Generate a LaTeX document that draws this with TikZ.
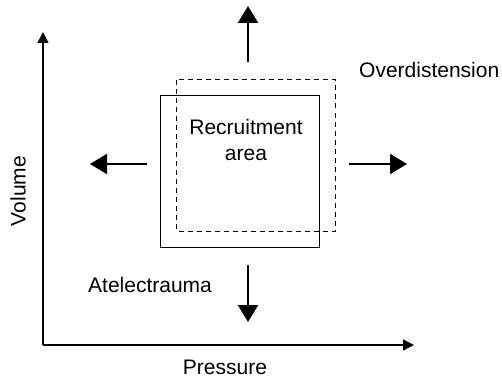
\documentclass[tikz,border=0pt]{standalone}
\usepackage{fontspec}
\setmainfont{Liberation Sans}
\usetikzlibrary{arrows.meta}
\begin{document}
\begin{tikzpicture}[x=1pt,y=-1pt,
  lbl/.style={font=\fontsize{21}{24}\selectfont, inner sep=0pt},
  axis/.style={line width=1.4pt, -{Triangle[width=11pt,length=11pt]}},
  bigarrow/.style={line width=2pt, -{Triangle[width=20pt,length=17pt]}},
  box/.style={line width=1pt}]
\useasboundingbox (0,0) rectangle (502,382);
% axes
\coordinate (O) at (43,345);
\coordinate (ytip) at (43,32);
\coordinate (xtip) at (414,345);
\draw[axis] (O) -- (ytip);
\draw[axis] (O) -- (xtip);
% boxes
\draw[box] (160.5,96) rectangle (319.5,247);
\draw[box,dashed,dash pattern=on 5pt off 4pt] (176.5,80) rectangle (335,231);
% arrow coordinates
\coordinate (us) at (248,62);  \coordinate (ut) at (248,6);
\coordinate (ds) at (248,265); \coordinate (dt) at (248,322);
\coordinate (ls) at (147,164); \coordinate (lt) at (90,164);
\coordinate (rs) at (349,164); \coordinate (rt) at (407,164);
\draw[bigarrow] (us) -- (ut);
\draw[bigarrow] (ds) -- (dt);
\draw[bigarrow] (ls) -- (lt);
\draw[bigarrow] (rs) -- (rt);
% labels
\node[lbl, align=center] (rec) at (246,140) {Recruitment\\[2pt]area};
\node[lbl, anchor=west] (over) at (359,70) {Overdistension};
\node[lbl, anchor=west] (atel) at (88,285) {Atelectrauma};
\node[lbl] (press) at (225,367) {Pressure};
\node[lbl, rotate=90] (vol) at (18,191) {Volume};
\end{tikzpicture}
\end{document}
